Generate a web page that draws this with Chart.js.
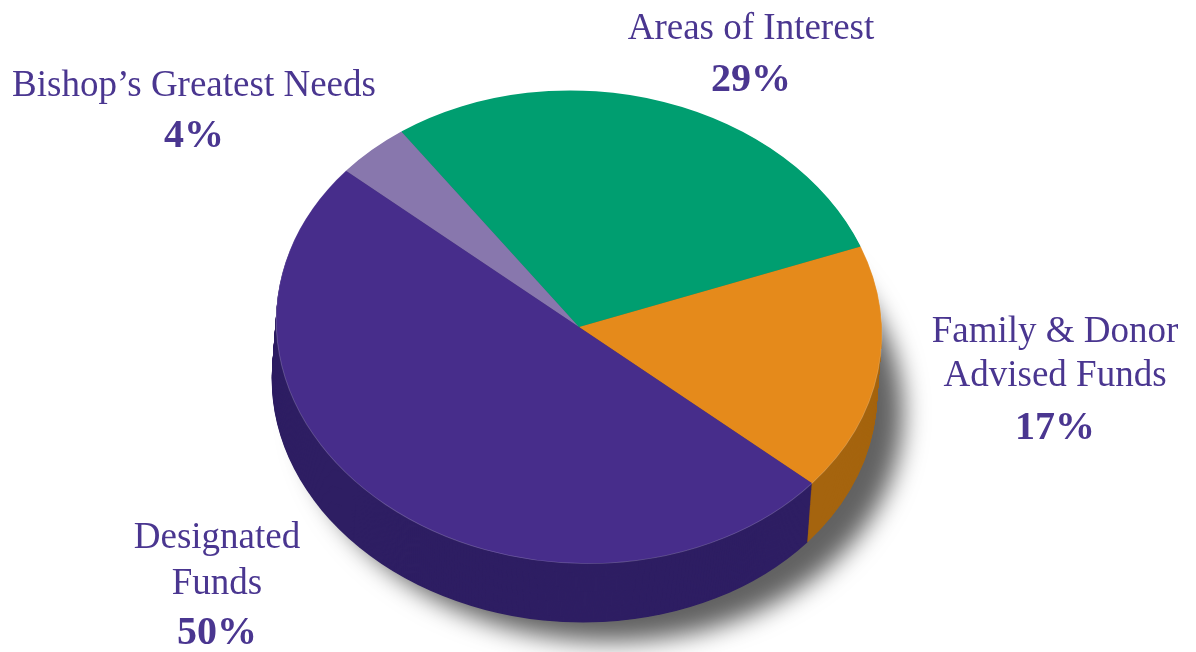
<!DOCTYPE html>
<html>
<head>
<meta charset="utf-8">
<style>
  html, body { margin: 0; padding: 0; background: #fff; overflow: hidden; }
  canvas { display: block; }
</style>
<script src="https://cdn.jsdelivr.net/npm/chart.js@4"></script>
</head>
<body>
<canvas id="pie" width="1196" height="652"></canvas>
<script>
// data
var categories = ["Areas of Interest", "Family & Donor Advised Funds", "Designated Funds", "Bishop’s Greatest Needs"];
var values = [29, 17, 50, 4];
var labelLines = [["Areas of Interest"], ["Family & Donor", "Advised Funds"], ["Designated", "Funds"], ["Bishop’s Greatest Needs"]];

// colors
var topColors = ["#009E70", "#E58A1B", "#472D8B", "#8877AD"];
var sideColors = ["#007A56", "#A5640E", "#2E1E63", "#2E1E63"];
var textColor = "#4A3690";

// label placement: center x, baseline y of each line
var labelX = [751, 1055, 217, 194];
var labelY = [[39, 91], [342, 386, 439], [548, 594, 644], [96, 147]];

var tilt = 3.3 * Math.PI / 180;
var squash = 0.78;
var depthX = -4.5;
var depthY = 59;

function tiltPie(ctx, el) {
    ctx.translate(el.x, el.y);
    ctx.rotate(tilt);
    ctx.scale(1, squash);
    ctx.translate(-el.x, -el.y);
}

var pie3d = {
    id: "pie3d",
    beforeDatasetsDraw: function(chart) {
        var ctx = chart.ctx;
        var arcs = chart.getDatasetMeta(0).data;
        var first = arcs[0];

        // soft drop shadow
        ctx.save();
        ctx.shadowColor = "rgba(0,0,0,0.62)";
        ctx.shadowBlur = 24;
        ctx.shadowOffsetX = 27;
        ctx.shadowOffsetY = 20;
        ctx.translate(depthX, depthY);
        tiltPie(ctx, first);
        ctx.fillStyle = "#2E1E63";
        ctx.beginPath();
        ctx.arc(first.x, first.y, first.outerRadius - 1, 0, Math.PI * 2);
        ctx.fill();
        ctx.restore();

        // side wall, stacked copies of each slice
        for (var k = 60; k >= 1; k--) {
            var t = k / 60;
            for (var i = 0; i < arcs.length; i++) {
                var a = arcs[i];
                ctx.save();
                ctx.translate(depthX * t, depthY * t);
                tiltPie(ctx, a);
                ctx.fillStyle = sideColors[i];
                ctx.beginPath();
                ctx.moveTo(a.x, a.y);
                ctx.arc(a.x, a.y, a.outerRadius, a.startAngle, a.endAngle);
                ctx.closePath();
                ctx.fill();
                ctx.restore();
            }
        }

        // top face goes through the same transform
        ctx.save();
        tiltPie(ctx, first);
    },
    afterDatasetsDraw: function(chart) {
        var ctx = chart.ctx;
        var arcs = chart.getDatasetMeta(0).data;
        // thin light rim where the top meets the wall
        ctx.strokeStyle = "rgba(255,255,255,0.2)";
        ctx.lineWidth = 1;
        [1, 2].forEach(function(i) {
            var a = arcs[i];
            ctx.beginPath();
            ctx.arc(a.x, a.y, a.outerRadius, a.startAngle, a.endAngle);
            ctx.stroke();
        });
        ctx.restore();
    },
    afterDraw: function(chart) {
        var ctx = chart.ctx;
        ctx.save();
        ctx.fillStyle = textColor;
        ctx.textAlign = "center";
        ctx.textBaseline = "alphabetic";
        for (var i = 0; i < labelLines.length; i++) {
            var lines = labelLines[i];
            for (var j = 0; j < lines.length; j++) {
                ctx.font = "37px 'Liberation Serif'";
                ctx.fillText(lines[j], labelX[i], labelY[i][j]);
            }
            ctx.font = "bold 40px 'Liberation Serif'";
            ctx.fillText(values[i] + "%", labelX[i], labelY[i][lines.length]);
        }
        ctx.restore();
    }
};

var pieContext = document.getElementById("pie").getContext("2d");
var pieChart = new Chart(pieContext, {
    type: "pie",
    data: {
        labels: categories,
        datasets: [{
            data: values,
            backgroundColor: topColors,
            borderWidth: 0,
            clip: false
        }]
    },
    options: {
        responsive: false,
        animation: false,
        rotation: -38.5,
        layout: { padding: { left: 276, right: 314, top: 24, bottom: 22 } },
        plugins: {
            legend: { display: false },
            tooltip: { enabled: false }
        }
    },
    plugins: [pie3d]
});
</script>
</body>
</html>
